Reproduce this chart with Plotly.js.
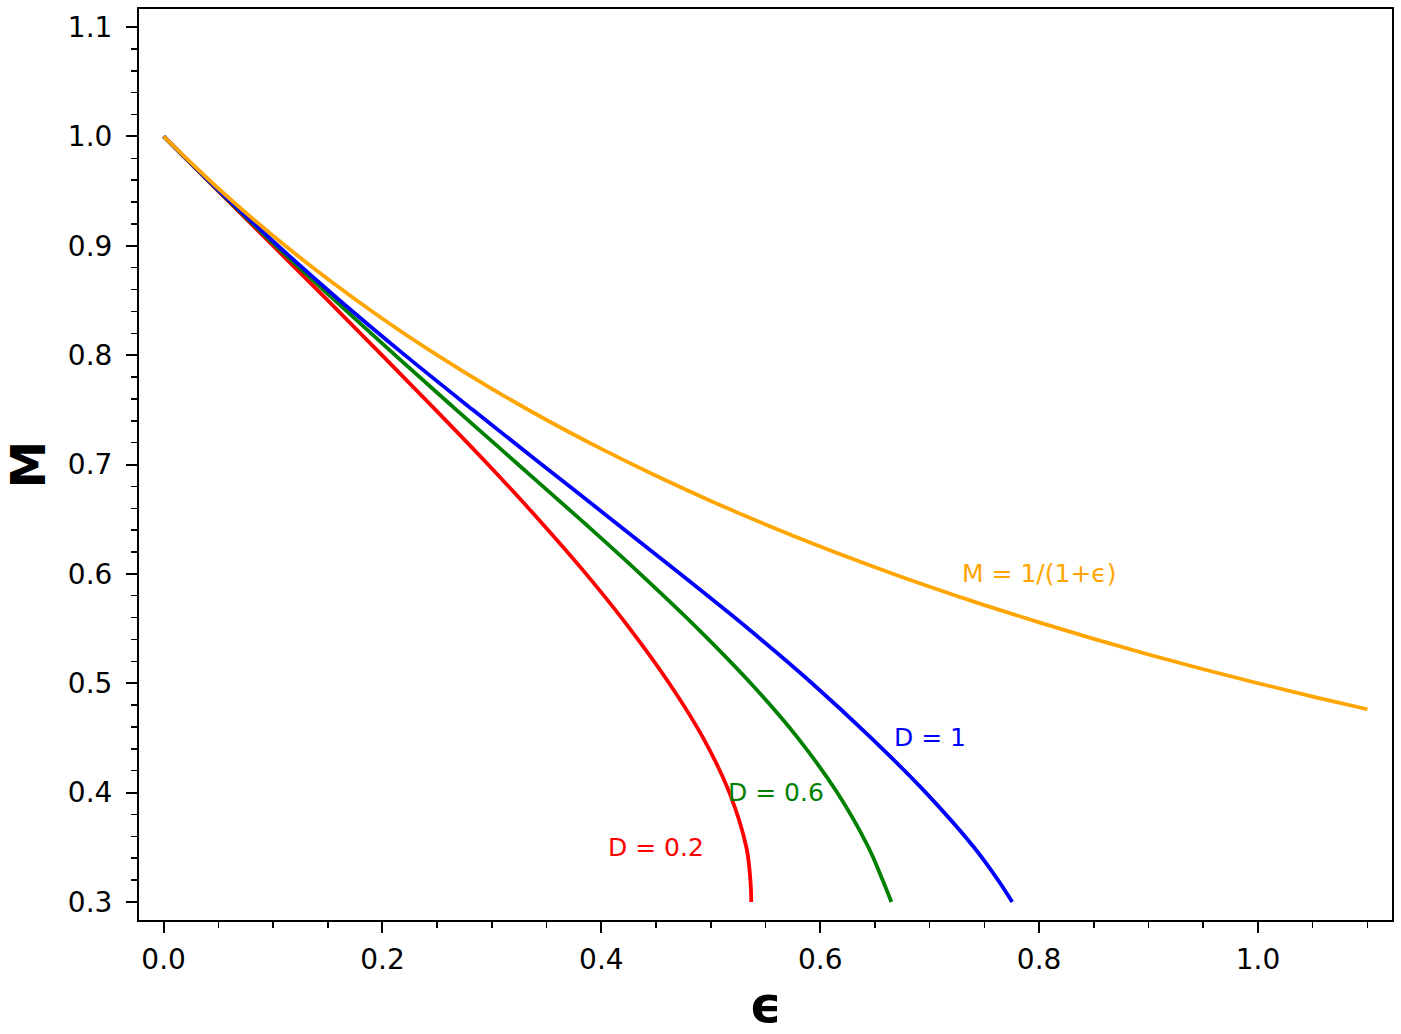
<!DOCTYPE html>
<html>
<head>
<meta charset="utf-8">
<script src="https://cdn.plot.ly/plotly-3.0.1.min.js"></script>
<style>html,body{margin:0;padding:0;background:#fff;}#chart{width:1401px;height:1034px;}</style>
</head>
<body>
<div id="chart"></div>
<script>
// Orange reference curve M = 1/(1+eps)
const epsRef = [0, 0.05, 0.1, 0.15, 0.2, 0.25, 0.3, 0.35, 0.4, 0.45, 0.5, 0.55, 0.6, 0.65, 0.7, 0.75, 0.8, 0.85, 0.9, 0.95, 1.0, 1.05, 1.1];
const mRef   = [1.0000, 0.9524, 0.9091, 0.8696, 0.8333, 0.8000, 0.7692, 0.7407, 0.7143, 0.6897, 0.6667, 0.6452, 0.6250, 0.6061, 0.5882, 0.5714, 0.5556, 0.5405, 0.5263, 0.5128, 0.5000, 0.4878, 0.4762];

// M levels shared by the D curves
const mLevels = [1.0, 0.95, 0.9, 0.85, 0.8, 0.75, 0.7, 0.65, 0.6, 0.55, 0.5, 0.45, 0.4, 0.35, 0.32, 0.3];
// epsilon of each D curve at those M levels
const epsD02 = [0, 0.050, 0.100, 0.150, 0.1995, 0.2485, 0.2965, 0.3425, 0.386, 0.426, 0.462, 0.493, 0.517, 0.5325, 0.5362, 0.537];
const epsD06 = [0, 0.0505, 0.1025, 0.1565, 0.2115, 0.2675, 0.324, 0.3805, 0.4355, 0.488, 0.5365, 0.5795, 0.6155, 0.644, 0.657, 0.665];
const epsD1  = [0, 0.051, 0.1045, 0.161, 0.2205, 0.2825, 0.3455, 0.409, 0.472, 0.534, 0.5925, 0.6465, 0.6965, 0.7405, 0.7625, 0.7755];

const labels = [
  {text: 'M = 1/(1+\u03f5)', x: 0.80, y: 0.60, color: '#FFA500'},
  {text: 'D = 1',   x: 0.70, y: 0.45, color: '#0000FF'},
  {text: 'D = 0.6', x: 0.56, y: 0.40, color: '#008000'},
  {text: 'D = 0.2', x: 0.45, y: 0.35, color: '#FF0000'}
];

const F = '"DejaVu Sans", "Liberation Sans", sans-serif';
const lw = 3.8;
const traces = [
  {x: epsD02, y: mLevels, mode: 'lines', line: {color: '#FF0000', width: lw, shape: 'spline', smoothing: 1}, name: 'D = 0.2'},
  {x: epsD06, y: mLevels, mode: 'lines', line: {color: '#008000', width: lw, shape: 'spline', smoothing: 1}, name: 'D = 0.6'},
  {x: epsD1,  y: mLevels, mode: 'lines', line: {color: '#0000FF', width: lw, shape: 'spline', smoothing: 1}, name: 'D = 1'},
  {x: epsRef, y: mRef,    mode: 'lines', line: {color: '#FFA500', width: lw, shape: 'spline', smoothing: 1}, name: 'M = 1/(1+\u03f5)'}
];

const axisCommon = {
  showgrid: false, zeroline: false,
  showline: true, linecolor: '#000', linewidth: 2, mirror: true,
  ticks: 'outside', ticklen: 11, tickwidth: 2, tickcolor: '#000',
  tickfont: {family: F, size: 28, color: '#000'},
  tickformat: '.1f', tick0: 0
};

const layout = {
  width: 1401, height: 1034,
  margin: {l: 139, r: 9, t: 9, b: 114},
  paper_bgcolor: '#fff', plot_bgcolor: '#fff',
  showlegend: false,
  font: {family: F},
  xaxis: Object.assign({}, axisCommon, {
    range: [-0.0225, 1.1225], dtick: 0.2,
    minor: {dtick: 0.05, ticks: 'outside', ticklen: 6, tickwidth: 1.5, tickcolor: '#000'},
    ticklabelstandoff: 2,
    title: {text: '\u03f5', font: {family: F, size: 50, color: '#000', weight: 'bold'}, standoff: 29}
  }),
  yaxis: Object.assign({}, axisCommon, {
    range: [0.2835, 1.1165], dtick: 0.1,
    minor: {dtick: 0.02, ticks: 'outside', ticklen: 6, tickwidth: 1.5, tickcolor: '#000'},
    ticklabelstandoff: 8,
    title: {text: 'M', font: {family: F, size: 48, color: '#000', weight: 'bold'}, standoff: 19}
  }),
  annotations: labels.map(l => ({
    x: l.x, y: l.y, xref: 'x', yref: 'y', text: l.text, showarrow: false,
    xanchor: 'center', yanchor: 'middle',
    font: {family: F, size: 25, color: l.color}
  }))
};

Plotly.newPlot('chart', traces, layout, {displayModeBar: false, staticPlot: true});
</script>
</body>
</html>
